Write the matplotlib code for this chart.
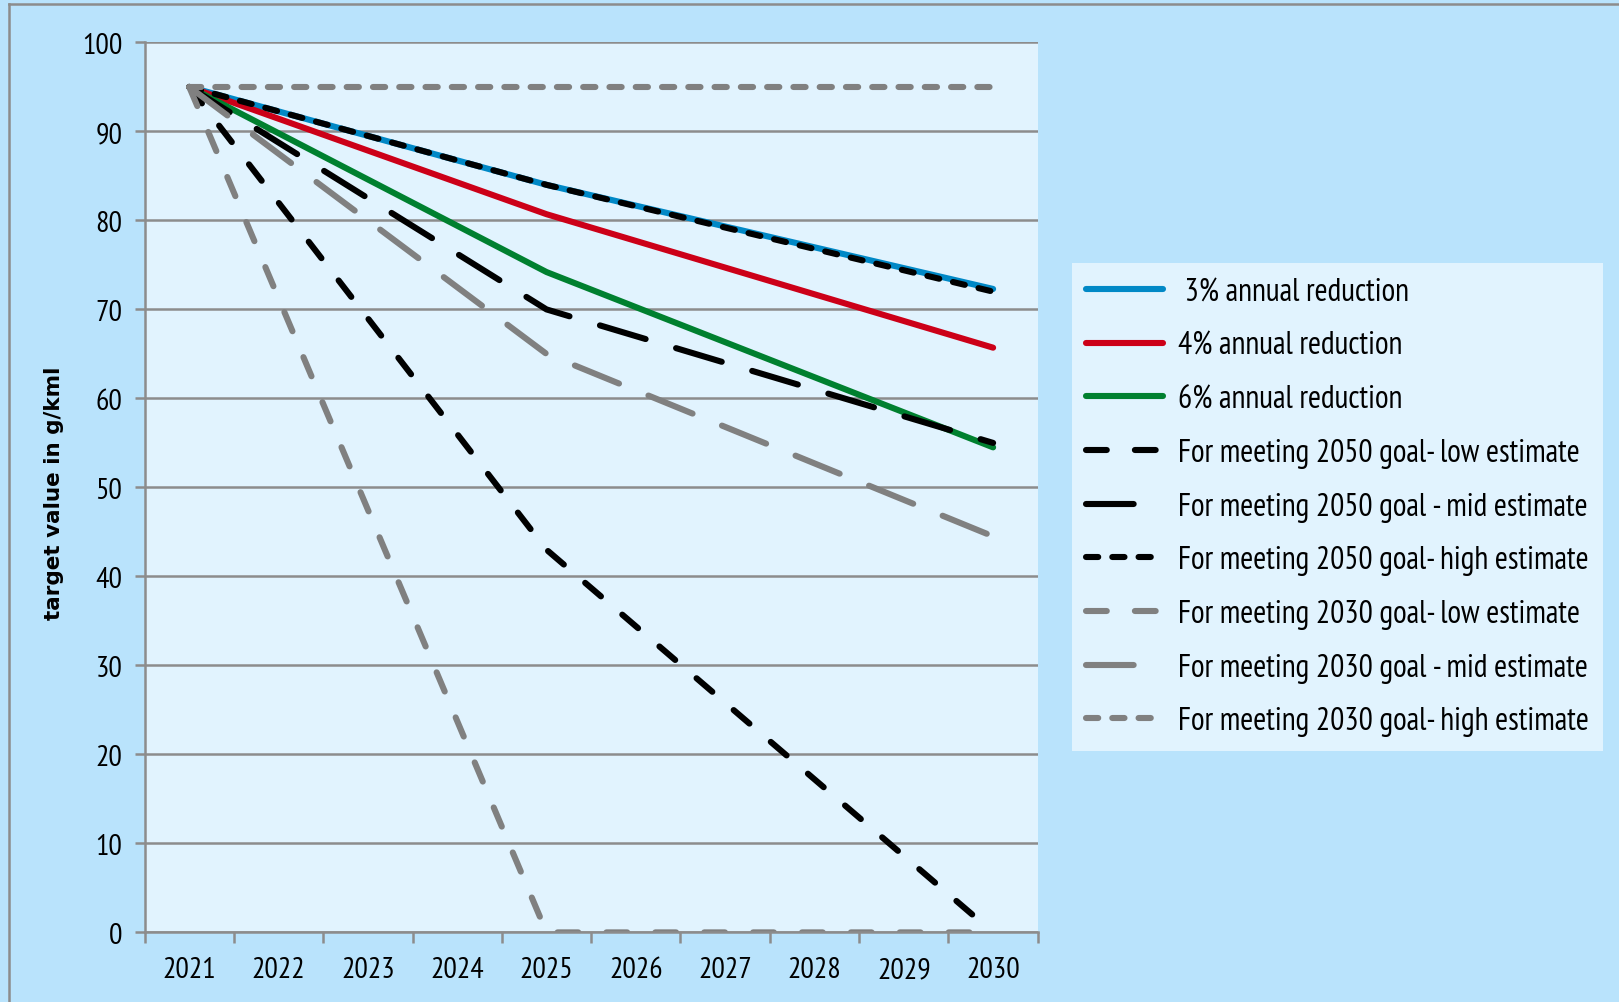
import matplotlib
matplotlib.use('Agg')
import matplotlib.pyplot as plt
from matplotlib.lines import Line2D

# categories on the x axis
years = ['2021', '2022', '2023', '2024', '2025', '2026', '2027', '2028', '2029', '2030']
# the series only have values at these years, Excel joins them with straight lines
point_years = ['2021', '2025', '2030']

red_3pct = [95, 84.0, 72.3]
red_4pct = [95, 80.7, 65.7]
red_6pct = [95, 74.2, 54.5]
goal2050_low = [95, 43, 0]
goal2050_mid = [95, 70, 55]
goal2050_high = [95, 84.0, 72.0]
goal2030_low = [95, 0, 0]
goal2030_mid = [95, 65, 44.5]
goal2030_high = [95, 95, 95]

labels = [' 3% annual reduction', '4% annual reduction', '6% annual reduction',
          'For meeting 2050 goal- low estimate', 'For meeting 2050 goal - mid estimate',
          'For meeting 2050 goal- high estimate', 'For meeting 2030 goal- low estimate',
          'For meeting 2030 goal - mid estimate', 'For meeting 2030 goal- high estimate']

outer_bg = '#B9E3FC'
inner_bg = '#E1F3FE'
grid_c = '#8C8C8C'
gray = '#808080'

plt.rcParams['font.family'] = ['PT Sans Narrow', 'DejaVu Sans']

fig = plt.figure(figsize=(16.19, 10.03), dpi=100, facecolor=outer_bg)
ax = fig.add_axes([0.0893, 0.0694, 0.5517, 0.8873])
ax.set_facecolor(inner_bg)

xs = [years.index(y) for y in point_years]
lw = 4.4
long_dash = (3.4, 4.6)
longer_dash = (7.8, 5.2)
short_dash = (2.0, 2.3)

series = [
    (red_3pct, '#0088C6', None),
    (red_4pct, '#CC0018', None),
    (red_6pct, '#00802F', None),
    (goal2050_low, 'black', long_dash),
    (goal2050_mid, 'black', longer_dash),
    (goal2050_high, 'black', short_dash),
    (goal2030_low, gray, long_dash),
    (goal2030_mid, gray, longer_dash),
    (goal2030_high, gray, short_dash),
]

for (vals, col, dash), lab in zip(series, labels):
    line, = ax.plot(xs, vals, color=col, lw=lw, label=lab,
                    solid_capstyle='round', dash_capstyle='round', solid_joinstyle='round')
    if dash is not None:
        line.set_dashes(dash)

ax.set_xlim(-0.5, 9.5)
ax.set_ylim(0, 100)
ax.set_yticks(range(0, 101, 10))
ax.yaxis.grid(True, color=grid_c, lw=1.8)
ax.set_axisbelow(True)

# tick marks between categories, labels at categories
ax.set_xticks([i - 0.5 for i in range(11)])
ax.set_xticklabels([])
ax.set_xticks(range(10), minor=True)
ax.set_xticklabels(years, minor=True)
ax.tick_params(axis='x', which='major', length=8, width=1.8, color=grid_c, direction='out')
ax.tick_params(axis='x', which='minor', length=0, pad=17, labelsize=21.5)
ax.tick_params(axis='y', length=7, width=1.8, color=grid_c, pad=9, labelsize=21.5)

for s in ['top', 'right']:
    ax.spines[s].set_visible(False)
for s in ['left', 'bottom']:
    ax.spines[s].set_color(grid_c)
    ax.spines[s].set_linewidth(1.8)

ax.set_ylabel('target value in g/kml', fontsize=15.5, fontweight='bold', family='DejaVu Sans')
ax.yaxis.set_label_coords(-0.09, 0.494)

leg = ax.legend(loc='upper left', bbox_to_anchor=(1072 / 1619, 1 - 264 / 1003),
                bbox_transform=fig.transFigure, borderaxespad=0, fontsize=22.7,
                handlelength=2.45, handletextpad=0.45, labelspacing=0.75,
                borderpad=0.45, frameon=True, fancybox=False)
leg.get_frame().set_facecolor(inner_bg)
leg.get_frame().set_edgecolor('none')
leg.get_frame().set_alpha(1)

# grey border round the chart
fig.add_artist(Line2D([9 / 1619, 9 / 1619], [0, 1 - 5 / 1003], transform=fig.transFigure, color=grid_c, lw=1.8))
fig.add_artist(Line2D([9 / 1619, 1], [1 - 5 / 1003, 1 - 5 / 1003], transform=fig.transFigure, color=grid_c, lw=1.8))

plt.savefig('out.png', dpi=100, facecolor=outer_bg)
